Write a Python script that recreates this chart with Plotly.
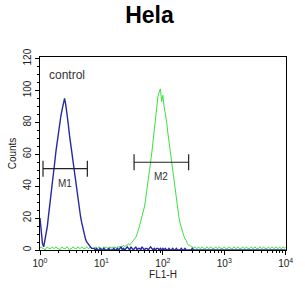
import numpy as np
import plotly.graph_objects as go

# channel positions: log10(FL1-H) in steps of 0.02 over 4 decades
log_step = 0.02
blue_counts = [
    20, 11, 4, 2, 6, 10, 15, 22, 28, 34,
    41, 48, 55, 62, 68, 73, 79, 84, 88, 92,
    95, 91, 86, 79, 72, 66, 60, 54, 48, 43,
    38, 32, 26, 21, 17, 13, 10, 7, 5, 4,
    3, 2, 1, 1, 1, 0, 1, 0, 0, 1,
    0, 0, 1, 0, 0, 0, 1, 0, 0, 0,
    1, 0, 0, 1, 0, 1, 2, 0, 1, 0,
    1, 2, 1, 0, 2, 1, 0, 1, 2, 0,
    1, 1, 0, 2, 1, 0, 1, 1, 0, 1,
    2, 1, 0, 1, 0, 1, 1, 0, 1, 0,
    1, 0, 1, 0, 0, 1, 0, 0, 1, 0,
    0, 1, 0, 0, 0, 1, 0, 0, 1, 0,
    0, 0, 0, 0, 1, 0, 0, 0, 0, 0,
    0, 0, 0, 0, 0, 0, 0, 0, 0, 0,
    0, 0, 0, 0, 0, 0, 0, 0, 0, 0,
    0, 0, 0, 0, 0, 0, 0, 0, 0, 0,
    0, 0, 0, 0, 0, 0, 0, 0, 0, 0,
    0, 0, 0, 0, 0, 0, 0, 0, 0, 0,
    0, 0, 0, 0, 0, 0, 0, 0, 0, 0,
    0, 0, 0, 0, 0, 0, 0, 0, 0, 0,
    0,
]
green_counts = [
    1, 2, 1, 1, 0, 1, 2, 1, 1, 1,
    2, 1, 1, 2, 1, 1, 0, 1, 2, 1,
    1, 1, 2, 1, 0, 1, 1, 2, 1, 1,
    1, 2, 1, 1, 2, 1, 1, 1, 2, 1,
    1, 2, 1, 1, 1, 2, 1, 1, 2, 1,
    1, 1, 2, 1, 2, 1, 1, 2, 1, 2,
    1, 2, 1, 2, 2, 2, 2, 2, 3, 2,
    3, 3, 4, 3, 4, 5, 6, 7, 8, 10,
    12, 15, 18, 21, 24, 27, 32, 37, 43, 48,
    55, 61, 68, 76, 84, 90, 96, 99, 101, 93,
    97, 90, 86, 81, 74, 68, 63, 57, 51, 45,
    38, 31, 26, 21, 17, 14, 11, 9, 7, 6,
    4, 3, 3, 2, 2, 1, 2, 1, 1, 2,
    1, 1, 2, 1, 1, 1, 2, 1, 1, 2,
    1, 1, 1, 2, 1, 1, 2, 1, 1, 1,
    2, 1, 1, 1, 2, 1, 1, 1, 2, 1,
    1, 2, 1, 1, 1, 2, 1, 1, 2, 1,
    1, 1, 2, 1, 1, 2, 1, 1, 1, 2,
    1, 1, 2, 1, 1, 1, 2, 1, 1, 2,
    1, 1, 2, 1, 1, 2, 1, 1, 2, 1,
    2,
]
gate_names = ["M1", "M2"]
gate_lo = [1.12, 34]
gate_hi = [5.9, 263]
gate_y = [51, 55]
x_tickvals = [1, 10, 100, 1000, 10000]
x_ticktext = ["10<sup>0</sup>", "10<sup>1</sup>", "10<sup>2</sup>", "10<sup>3</sup>", "10<sup>4</sup>"]
y_tickvals = [0, 20, 40, 60, 80, 100, 120]

x_ch = 10 ** (np.arange(len(blue_counts)) * log_step)

FONT = "Arial, Liberation Sans, sans-serif"
fig = go.Figure()
fig.add_trace(go.Scatter(x=x_ch, y=green_counts, mode="lines",
                         line=dict(color="#3ee03e", width=1), showlegend=False))
fig.add_trace(go.Scatter(x=x_ch, y=blue_counts, mode="lines",
                         line=dict(color="#2828a0", width=1.4), showlegend=False))

for name, lo, hi, yv in zip(gate_names, gate_lo, gate_hi, gate_y):
    fig.add_trace(go.Scatter(x=[lo, hi], y=[yv, yv], mode="lines",
                             line=dict(color="#222", width=1.2), showlegend=False))
    fig.add_trace(go.Scatter(x=[lo, lo, None, hi, hi], y=[yv - 5, yv + 5, None, yv - 5, yv + 5],
                             mode="lines", line=dict(color="#222", width=1.2), showlegend=False))
    fig.add_annotation(x=np.log10(np.sqrt(lo * hi)), y=yv - 9, text=name, showarrow=False,
                       font=dict(family=FONT, size=10, color="#333"))

fig.add_annotation(xref="paper", yref="paper", x=0.028, y=0.905, xanchor="left",
                   yanchor="middle", text="control", showarrow=False,
                   font=dict(family=FONT, size=12, color="#333"))

x_minor = [m * d for d in [1, 10, 100, 1000] for m in range(2, 10)]
fig.update_layout(
    width=305, height=296,
    margin=dict(l=35, r=15, t=57, b=46),
    paper_bgcolor="white", plot_bgcolor="white",
    title=dict(text="<b>Hela</b>", x=0.49, xanchor="center", y=0.95, yanchor="middle",
               font=dict(family=FONT, size=23, color="black")),
    xaxis=dict(type="log", range=[0, 4.005], tickvals=x_tickvals, ticktext=x_ticktext,
               showgrid=False, zeroline=False, showline=True, linecolor="black", linewidth=1,
               mirror=True, ticks="outside", ticklen=4, tickcolor="black",
               minor=dict(tickvals=x_minor, ticks="outside", ticklen=2, tickcolor="black"),
               tickfont=dict(family=FONT, size=10, color="#222"),
               title=dict(text="FL1-H", font=dict(family=FONT, size=10, color="#222"), standoff=1)),
    yaxis=dict(range=[0, 121], tickvals=y_tickvals, tickangle=-90,
               showgrid=False, zeroline=False, showline=True, linecolor="black", linewidth=1,
               mirror=True, ticks="outside", ticklen=4, tickcolor="black",
               minor=dict(dtick=5, ticks="outside", ticklen=2, tickcolor="black"),
               tickfont=dict(family=FONT, size=10, color="#222"),
               title=dict(text="Counts", font=dict(family=FONT, size=10, color="#222"), standoff=3)),
)
fig.write_html("out.html")
